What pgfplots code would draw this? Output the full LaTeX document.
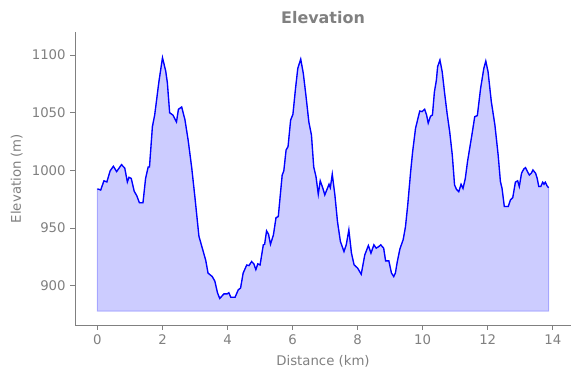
\documentclass[border=0pt]{standalone}
\usepackage{fontspec}
\setmainfont{DejaVu Sans}
\usepackage{pgfplots}
\usepackage{pgfplotstable}
\pgfplotsset{compat=1.18}
\definecolor{txt}{HTML}{808080}
\pgfplotstableread{
x y
0.00 984
0.10 983
0.20 991
0.29 990
0.39 999.6
0.49 1003.6
0.59 999
0.74 1005
0.84 1002
0.92 990
0.97 994
1.04 993
1.13 982
1.21 978
1.29 972
1.40 972
1.48 993
1.56 1003
1.60 1003
1.69 1038
1.76 1048
1.89 1077
2.00 1097.7
2.10 1086
2.15 1076
2.22 1050
2.32 1048
2.43 1042
2.49 1053
2.59 1055
2.69 1044
2.79 1026
2.90 1002
3.00 976
3.12 943
3.24 931
3.33 922
3.40 911
3.53 908
3.61 904
3.69 894
3.76 889
3.89 893
3.99 893
4.04 894
4.10 890
4.23 890
4.33 896.5
4.40 898
4.48 911
4.59 918
4.66 917.5
4.74 921
4.81 919
4.87 914
4.93 919
5.00 918
5.10 935.5
5.14 936
5.20 947.6
5.26 944.7
5.32 936
5.41 944
5.49 959
5.56 960
5.68 996
5.73 999.6
5.80 1017.7
5.86 1020.6
5.94 1043.7
6.01 1048.6
6.09 1071
6.16 1088.5
6.25 1096.5
6.33 1084
6.41 1065
6.50 1042
6.58 1030.7
6.65 1003
6.72 994.6
6.79 979.4
6.85 991
6.93 984.6
6.99 978.8
7.05 983
7.12 988
7.16 985
7.22 996.7
7.30 978.8
7.38 955.7
7.47 938.4
7.58 929.7
7.65 935.5
7.73 948.5
7.81 928.3
7.89 918.2
8.00 915.3
8.11 910
8.22 926.8
8.33 934.9
8.41 928.3
8.50 935.5
8.57 932.6
8.65 934
8.71 935.5
8.80 932.6
8.86 921.6
8.96 921.6
9.04 911
9.11 908
9.16 911
9.22 921
9.30 932
9.40 940
9.47 951
9.54 970
9.63 999
9.69 1016
9.78 1036.5
9.85 1044.6
9.91 1051.5
9.98 1051
10.06 1053
10.12 1048
10.17 1041
10.24 1047
10.30 1048
10.36 1068
10.42 1078
10.46 1090
10.53 1095.7
10.60 1085.5
10.67 1068
10.75 1049.5
10.83 1033.6
10.91 1013.4
10.98 987.4
11.04 983.5
11.11 981.6
11.18 988
11.24 984.4
11.31 993
11.38 1008
11.45 1020
11.52 1032
11.60 1046.6
11.68 1047.5
11.78 1071
11.88 1088.5
11.94 1094.8
12.01 1085.5
12.11 1059.6
12.22 1039.4
12.32 1013.4
12.39 990.3
12.44 984.4
12.51 968.7
12.63 968.7
12.70 974.5
12.77 976.5
12.85 989.8
12.92 991
12.97 986
13.04 997.6
13.11 1001.3
13.16 1002.4
13.22 999
13.28 996
13.34 997.6
13.39 1000.4
13.47 997.6
13.52 993.2
13.57 986
13.63 986
13.69 989.8
13.73 988
13.77 989.8
13.82 986.8
13.87 985
}\elev
\pgfplotstableread{
x y
13.87 878
0.00 878
}\base
\pgfplotstablevertcat{\fillt}{\elev}
\pgfplotstablevertcat{\fillt}{\base}
\begin{document}
\begin{tikzpicture}
\path[use as bounding box] (0,0) rectangle (435bp,283.5bp);
\begin{axis}[
  at={(56.25bp,39.75bp)}, anchor=south west,
  scale only axis, width=372bp, height=219.75bp,
  xmin=-0.69, xmax=14.56, ymin=866, ymax=1120,
  axis x line*=bottom, axis y line*=left,
  axis line style={txt, line width=0.6pt, -},
  xtick={0,2,...,14}, ytick={900,950,...,1100},
  tick align=outside, major tick length=3.5bp,
  tick style={txt, line width=0.6pt},
  ticklabel style={font=\fontsize{10}{12}\selectfont, text=txt},
  /pgf/number format/assume math mode=true,
  /pgf/number format/1000 sep={},
  xlabel={Distance (km)}, ylabel={Elevation (m)},
  label style={text=txt, font=\fontsize{10}{12}\selectfont},
  xlabel style={yshift=-1.5bp},
  title={Elevation},
  title style={font=\bfseries\fontsize{12}{14}\selectfont, text=txt, yshift=-3bp},
]
\addplot[fill=blue, fill opacity=0.2, draw=blue, draw opacity=0.25, line width=0.8bp] table {\fillt} -- cycle;
\addplot[blue, line width=1bp] table {\elev};
\end{axis}
\end{tikzpicture}
\end{document}
